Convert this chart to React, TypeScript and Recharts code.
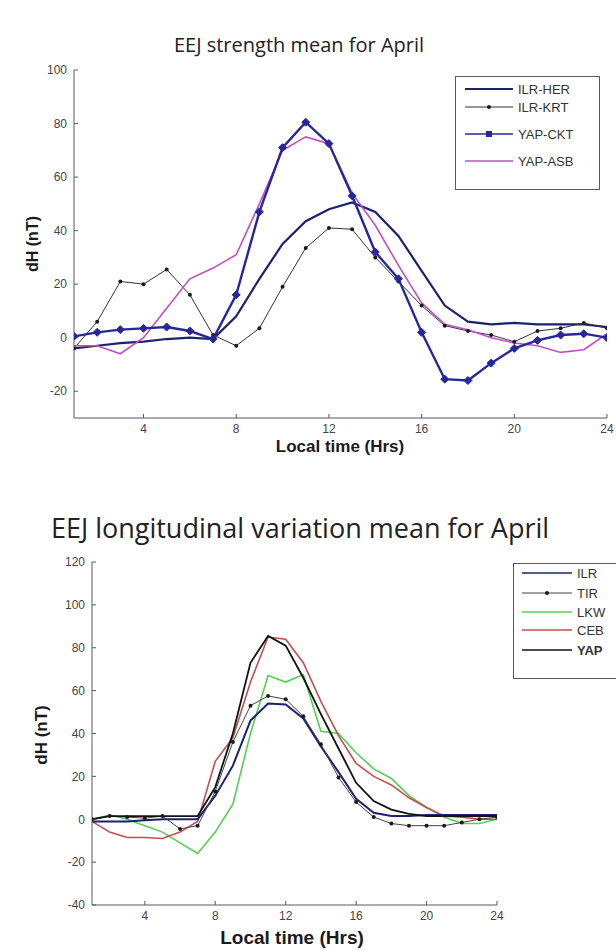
import React from "react";
import { LineChart, Line, XAxis, YAxis, Legend } from "recharts";

// local time (hours)
const hours = [1, 2, 3, 4, 5, 6, 7, 8, 9, 10, 11, 12, 13, 14, 15, 16, 17, 18, 19, 20, 21, 22, 23, 24];

// EEJ strength mean for April
const ilrHer = [-4, -3, -2, -1.5, -0.5, 0, -0.5, 8, 22, 35, 43.5, 48, 50.5, 47, 38, 25, 12, 6, 5, 5.5, 5, 5, 5, 4];
const ilrKrt = [-4, 6, 21, 20, 25.5, 16, 1, -3, 3.5, 19, 33.5, 41, 40.5, 30, 21, 12, 4.5, 2.5, 1, -1.5, 2.5, 3.5, 5.5, 3.5];
const yapCkt = [0.5, 2, 3, 3.5, 4, 2.5, -0.5, 16, 47, 71, 80.5, 72.5, 53, 32, 22, 2, -15.5, -16, -9.5, -4, -1, 1, 1.5, 0];
const yapAsb = [-3, -3, -6, 0, 11, 22, 26, 31, 50, 70, 75, 72.5, 54, 42, 27, 13, 5, 3, 0, -2, -3, -5.5, -4.5, 1.5];

// EEJ longitudinal variation mean for April
const ilr = [-1, -1, -1, -0.5, 0, 0, 0, 11, 25, 46, 54, 53.5, 47, 34, 22, 9.5, 3, 1.5, 1.5, 2, 2, 2, 2, 2];
const tir = [0, 1.5, 1, 0.5, 1.5, -4.5, -3, 13, 36, 53, 57.5, 56, 48, 35, 19.5, 8, 1, -2, -3, -3, -3, -1.5, 0, 1];
const lkw = [0, 2, 0, -3, -6, -11, -16, -6, 7, 40, 67, 64, 67.5, 41, 40, 31, 23.5, 19, 11, 5.5, 1, -2, -2, 0];
const ceb = [-1, -6, -8.5, -8.5, -9, -6, -1, 27, 38, 64, 85, 84, 73, 55, 39, 26, 20, 16, 10, 5.5, 1.5, 1, 0, 0];
const yap = [0, 1.5, 1.5, 1.5, 1.5, 1.5, 1.5, 15, 40, 73, 85.5, 81, 66, 49, 33, 17, 8.5, 4.5, 2.5, 1.5, 1.5, 1.5, 1.5, 1.5];

const xTicks = [4, 8, 12, 16, 20, 24];
const topYTicks = [-20, 0, 20, 40, 60, 80, 100];
const bottomYTicks = [-40, -20, 0, 20, 40, 60, 80, 100, 120];

const topData = hours.map((h, i) => ({ h, her: ilrHer[i], krt: ilrKrt[i], ckt: yapCkt[i], asb: yapAsb[i] }));
const bottomData = hours.map((h, i) => ({ h, ilr: ilr[i], tir: tir[i], lkw: lkw[i], ceb: ceb[i], yap: yap[i] }));

const AXIS = "#5a5a5a";
const tickFont = { fill: "#444", fontSize: 12, fontFamily: "Liberation Sans, Arial, sans-serif" };
const blank = () => "";

const Diamond = (props: any) => {
  const { cx, cy } = props;
  if (cx == null || cy == null) return <g />;
  const s = 4;
  return <path d={`M${cx},${cy - s}L${cx + s},${cy}L${cx},${cy + s}L${cx - s},${cy}Z`} fill="#27279a" stroke="#27279a" />;
};

const SmallDot = (props: any) => {
  const { cx, cy } = props;
  if (cx == null || cy == null) return <g />;
  return <circle cx={cx} cy={cy} r={2} fill="#1a1a1a" />;
};

type Item = { name: string; color: string; width: number; marker?: "dot" | "diamond"; y: number; bold?: boolean };

const topLegend: Item[] = [
  { name: "ILR-HER", color: "#1e216e", width: 2, y: 13 },
  { name: "ILR-KRT", color: "#333", width: 1, marker: "dot", y: 31 },
  { name: "YAP-CKT", color: "#27279a", width: 1.5, marker: "diamond", y: 58 },
  { name: "YAP-ASB", color: "#c24fbf", width: 1.5, y: 85 },
];

const bottomLegend: Item[] = [
  { name: "ILR", color: "#1e216e", width: 1.5, y: 10 },
  { name: "TIR", color: "#444", width: 1, marker: "dot", y: 30 },
  { name: "LKW", color: "#52d052", width: 1.5, y: 49 },
  { name: "CEB", color: "#c05050", width: 1.5, y: 67 },
  { name: "YAP", color: "#111", width: 1.5, y: 87, bold: true },
];

const LegendBox = ({ items, w, h, x1, x2, tx }: { items: Item[]; w: number; h: number; x1: number; x2: number; tx: number }) => (
  <svg width={w} height={h} style={{ display: "block" }}>
    <rect x={0.5} y={0.5} width={w - 1} height={h - 1} fill="#fff" stroke={AXIS} />
    {items.map((it) => (
      <g key={it.name}>
        <line x1={x1} x2={x2} y1={it.y} y2={it.y} stroke={it.color} strokeWidth={it.width} />
        {it.marker === "dot" && <circle cx={(x1 + x2) / 2} cy={it.y} r={2} fill="#1a1a1a" />}
        {it.marker === "diamond" && (
          <rect x={(x1 + x2) / 2 - 3} y={it.y - 3} width={6} height={6} fill="#27279a" />
        )}
        <text x={tx} y={it.y + 4.5} fontSize={13} fill="#333" fontWeight={it.bold ? "bold" : "normal"}
          fontFamily="Liberation Sans, Arial, sans-serif">{it.name}</text>
      </g>
    ))}
  </svg>
);

const textStyle: React.CSSProperties = { position: "absolute", whiteSpace: "nowrap", color: "#222" };
const titleStyle: React.CSSProperties = { ...textStyle, fontFamily: "'Open Sans', sans-serif", transform: "translate(-50%, -50%)" };
const axisTitle: React.CSSProperties = { ...textStyle, fontFamily: "Liberation Sans, Arial, sans-serif", fontWeight: "bold", color: "#1a1a1a", transform: "translate(-50%, -50%)" };
const rotated = "translate(-50%, -50%) rotate(-90deg)";

const Frame = ({ yTicks, domain }: { yTicks: number[]; domain: [number, number] }) => [
  <XAxis key="xb" xAxisId="b" dataKey="h" type="number" domain={[1, 24]} ticks={xTicks} allowDataOverflow
    stroke={AXIS} tick={tickFont} tickSize={-4} tickMargin={10} height={30} />,
  <XAxis key="xt" xAxisId="t" orientation="top" dataKey="h" type="number" domain={[1, 24]} ticks={xTicks} allowDataOverflow
    stroke={AXIS} tickFormatter={blank} tickSize={-4} height={0} />,
  <YAxis key="yl" yAxisId="l" type="number" domain={domain} ticks={yTicks} allowDataOverflow
    stroke={AXIS} tick={tickFont} tickSize={-4} tickMargin={11} width={40} />,
  <YAxis key="yr" yAxisId="r" orientation="right" type="number" domain={domain} ticks={yTicks} allowDataOverflow
    stroke={AXIS} tickFormatter={blank} tickSize={-4} width={0} />,
];

export default function App() {
  return (
    <div style={{ position: "absolute", left: 0, top: 0, width: 616, height: 951, background: "#fff", overflow: "hidden" }}>
      <div style={{ ...titleStyle, fontSize: 20, left: 299, top: 44 }}>EEJ strength mean for April</div>
      <div style={{ position: "absolute", left: 0, top: 0 }}>
        <LineChart width={616} height={470} data={topData} margin={{ top: 70, right: 9, left: 34, bottom: 22 }}>
          {Frame({ yTicks: topYTicks, domain: [-30, 100] })}
          <Line xAxisId="b" yAxisId="l" dataKey="her" name="ILR-HER" stroke="#1e216e" strokeWidth={2.2} dot={false} isAnimationActive={false} />
          <Line xAxisId="b" yAxisId="l" dataKey="krt" name="ILR-KRT" stroke="#333" strokeWidth={1} dot={<SmallDot />} isAnimationActive={false} />
          <Line xAxisId="b" yAxisId="l" dataKey="asb" name="YAP-ASB" stroke="#c24fbf" strokeWidth={1.6} dot={false} isAnimationActive={false} />
          <Line xAxisId="b" yAxisId="l" dataKey="ckt" name="YAP-CKT" stroke="#27279a" strokeWidth={2.4} dot={<Diamond />} isAnimationActive={false} />
          <Legend layout="vertical" align="center" verticalAlign="middle"
            wrapperStyle={{ left: 455, top: 76, width: 145, height: 114 }}
            content={() => <LegendBox items={topLegend} w={145} h={114} x1={10} x2={58} tx={63} />} />
        </LineChart>
      </div>
      <div style={{ ...axisTitle, fontSize: 17, left: 340, top: 447 }}>Local time (Hrs)</div>
      <div style={{ ...axisTitle, fontSize: 16, left: 33, top: 244, transform: rotated }}>dH (nT)</div>

      <div style={{ ...titleStyle, fontSize: 27, left: 300, top: 527 }}>EEJ longitudinal variation mean for April</div>
      <div style={{ position: "absolute", left: 0, top: 480 }}>
        <LineChart width={616} height={471} data={bottomData} margin={{ top: 82, right: 119, left: 52, bottom: 16 }}>
          {Frame({ yTicks: bottomYTicks, domain: [-40, 120] })}
          <Line xAxisId="b" yAxisId="l" dataKey="lkw" name="LKW" stroke="#52d052" strokeWidth={1.6} dot={false} isAnimationActive={false} />
          <Line xAxisId="b" yAxisId="l" dataKey="ceb" name="CEB" stroke="#c05050" strokeWidth={1.6} dot={false} isAnimationActive={false} />
          <Line xAxisId="b" yAxisId="l" dataKey="ilr" name="ILR" stroke="#1e216e" strokeWidth={2} dot={false} isAnimationActive={false} />
          <Line xAxisId="b" yAxisId="l" dataKey="tir" name="TIR" stroke="#444" strokeWidth={1} dot={<SmallDot />} isAnimationActive={false} />
          <Line xAxisId="b" yAxisId="l" dataKey="yap" name="YAP" stroke="#111" strokeWidth={1.8} dot={false} isAnimationActive={false} />
          <Legend layout="vertical" align="center" verticalAlign="middle"
            wrapperStyle={{ left: 513, top: 83, width: 110, height: 116 }}
            content={() => <LegendBox items={bottomLegend} w={110} h={116} x1={9} x2={59} tx={64} />} />
        </LineChart>
      </div>
      <div style={{ ...axisTitle, fontSize: 19, left: 292, top: 938 }}>Local time (Hrs)</div>
      <div style={{ ...axisTitle, fontSize: 17, left: 42, top: 735, transform: rotated }}>dH (nT)</div>
    </div>
  );
}
